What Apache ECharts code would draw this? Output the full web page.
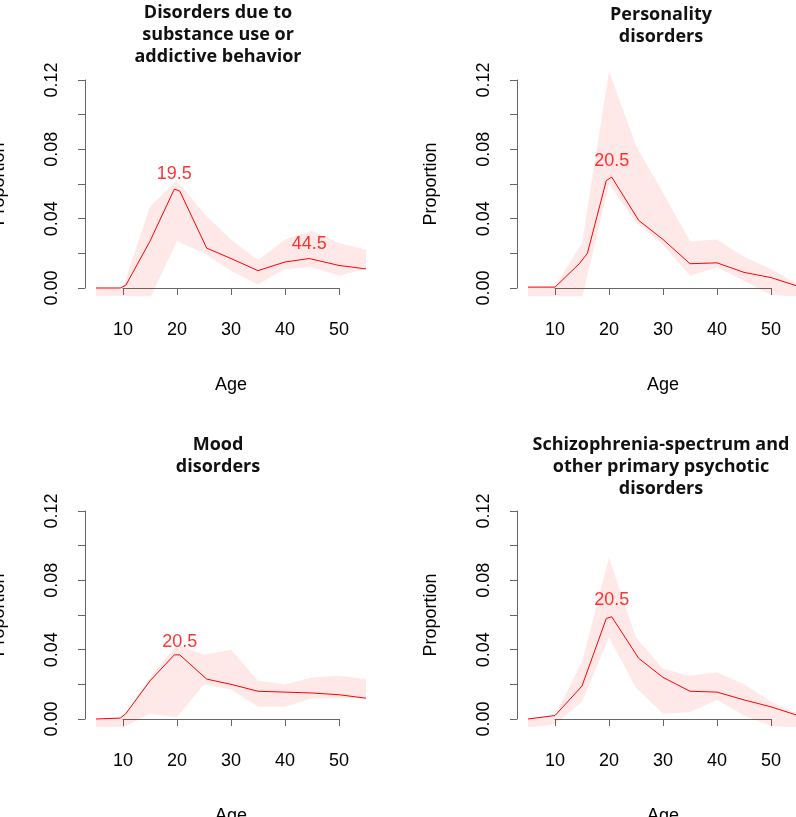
<!DOCTYPE html>
<html><head><meta charset="utf-8">
<script src="https://cdn.jsdelivr.net/npm/echarts@6/dist/echarts.min.js"></script>
<style>html,body{margin:0;padding:0;background:#fff}#c{width:796px;height:817px}</style>
</head><body><div id="c"></div>
<script>
const titles = [
  "Disorders due to\nsubstance use or\naddictive behavior",
  "Personality\ndisorders",
  "Mood\ndisorders",
  "Schizophrenia-spectrum and\nother primary psychotic\ndisorders"
];
const bandAges = [5,10,15,20,25,30,35,40,45,50,55];
// line series [age, proportion]
const line1 = [[5,0],[9.5,0],[10.5,0.0015],[15,0.027],[19.5,0.057],[20.5,0.056],[25.5,0.023],[30,0.017],[35,0.010],[40,0.015],[44.5,0.017],[50,0.013],[55,0.011]];
const upper1 = [0,0,0.047,0.062,0.043,0.028,0.016,0.028,0.033,0.026,0.022];
const lower1 = [-0.0045,-0.0045,-0.006,0.027,0.020,0.010,0.002,0.011,0.012,0.007,0.011];
const line2 = [[5,0.0005],[10,0.0005],[14.5,0.014],[16,0.02],[19.5,0.062],[20.5,0.064],[25.5,0.039],[30,0.028],[35,0.014],[40,0.0145],[45,0.009],[50,0.006],[55,0.001]];
const upper2 = [0.0005,0.001,0.026,0.125,0.082,0.055,0.027,0.028,0.018,0.011,0.002];
const lower2 = [-0.005,-0.005,-0.006,0.060,0.038,0.025,0.007,0.012,0.004,-0.004,-0.005];
const line3 = [[5,0],[9.5,0.0005],[10.5,0.003],[15,0.022],[19.5,0.037],[20.5,0.037],[25.5,0.023],[30,0.020],[35,0.016],[40,0.0155],[45,0.015],[50,0.014],[55,0.012]];
const upper3 = [0,0.001,0.024,0.043,0.037,0.040,0.022,0.020,0.024,0.025,0.023];
const lower3 = [-0.005,-0.005,0.003,0.001,0.020,0.017,0.007,0.007,0.012,0.012,0.012];
const line4 = [[5,0],[10,0.002],[15,0.019],[19.5,0.058],[20.5,0.059],[25.5,0.035],[30,0.024],[35,0.016],[40,0.0155],[45,0.011],[50,0.007],[55,0.002]];
const upper4 = [0,0.002,0.033,0.093,0.047,0.029,0.025,0.027,0.020,0.010,0.003];
const lower4 = [-0.005,-0.003,0.010,0.047,0.018,0.003,0.004,0.011,0.002,-0.004,-0.005];
const peakLabels = [[[19.5,0.0655,'19.5'],[44.5,0.0255,'44.5']],[[20.5,0.0735,'20.5']],[[20.5,0.0445,'20.5']],[[20.5,0.0685,'20.5']]];
const xTicks = [10,20,30,40,50];
const yTicks = [0,0.12];

const lines=[line1,line2,line3,line4], uppers=[upper1,upper2,upper3,upper4], lowers=[lower1,lower2,lower3,lower4];
const offs=[[0,0],[432,0],[0,431],[432,431]];
const titleTops=[-3,-1,429,429];
const font='"Liberation Sans", Arial, sans-serif';
const grid=[], xAxis=[], yAxis=[], series=[], title=[];
offs.forEach((o,i)=>{
  const [dx,dy]=o;
  grid.push({left:85.2+dx, top:71.7+dy, width:291.6, height:224.6, outerBoundsMode:'none', containLabel:false});
  grid.push({left:123+dx, top:80+dy, width:216, height:208, outerBoundsMode:'none', containLabel:false});
  const g=i*2;
  xAxis.push({gridIndex:g,type:'value',min:3,max:57,show:false});
  yAxis.push({gridIndex:g,type:'value',min:-0.0048,max:0.1248,show:false});
  xAxis.push({gridIndex:g+1,type:'value',min:xTicks[0],max:xTicks[xTicks.length-1],interval:10,offset:8,
    axisLine:{lineStyle:{color:'#666',width:1}},axisTick:{length:7,lineStyle:{color:'#666'}},splitLine:{show:false},
    axisLabel:{color:'#000',fontSize:18,fontFamily:font,margin:25},
    name:'Age',nameLocation:'middle',nameGap:80,nameTextStyle:{color:'#000',fontSize:18,fontFamily:font}});
  yAxis.push({gridIndex:g+1,type:'value',min:yTicks[0],max:yTicks[1],interval:0.02,offset:38,
    axisLine:{show:true,lineStyle:{color:'#666',width:1}},axisTick:{show:true,length:7,lineStyle:{color:'#666'}},splitLine:{show:false},
    axisLabel:{color:'#000',fontSize:18,fontFamily:font,rotate:90,margin:24,
      formatter:v=>Math.round(v*100)%4===0?v.toFixed(2):''},
    name:'Proportion',nameLocation:'middle',nameGap:77,nameRotate:90,nameTextStyle:{color:'#000',fontSize:18,fontFamily:font}});
  const up=uppers[i], lo=lowers[i];
  series.push({type:'custom',xAxisIndex:g,yAxisIndex:g,silent:true,data:[0],
    renderItem:(params,api)=>{
      const pts=[];
      bandAges.forEach((a,k)=>pts.push(api.coord([a,up[k]])));
      for(let k=bandAges.length-1;k>=0;k--) pts.push(api.coord([bandAges[k],lo[k]]));
      const cs=params.coordSys;
      return {type:'group',children:[{type:'polygon',shape:{points:pts},style:{fill:'rgba(255,0,0,0.09)'}}],
        clipPath:{type:'rect',shape:{x:cs.x,y:cs.y,width:cs.width,height:cs.height}}};
    }});
  series.push({type:'line',xAxisIndex:g,yAxisIndex:g,data:lines[i],symbol:'none',lineStyle:{color:'#ff0000',width:1},silent:true});
  series.push({type:'scatter',xAxisIndex:g,yAxisIndex:g,symbolSize:0,silent:true,
    data:peakLabels[i].map(p=>({value:[p[0],p[1]],label:{formatter:p[2]}})),
    label:{show:true,position:'inside',color:'#ff0000',fontSize:18,fontFamily:font}});
  title.push({text:titles[i],left:(i%2?656:213),top:titleTops[i],textAlign:'center',
    textStyle:{fontSize:18,fontWeight:'bold',fontFamily:'"Open Sans", sans-serif',color:'#111',lineHeight:22}});
});
const chart=echarts.init(document.getElementById('c'));
chart.setOption({animation:false,backgroundColor:'#fff',title,grid,xAxis,yAxis,series});
</script></body></html>
